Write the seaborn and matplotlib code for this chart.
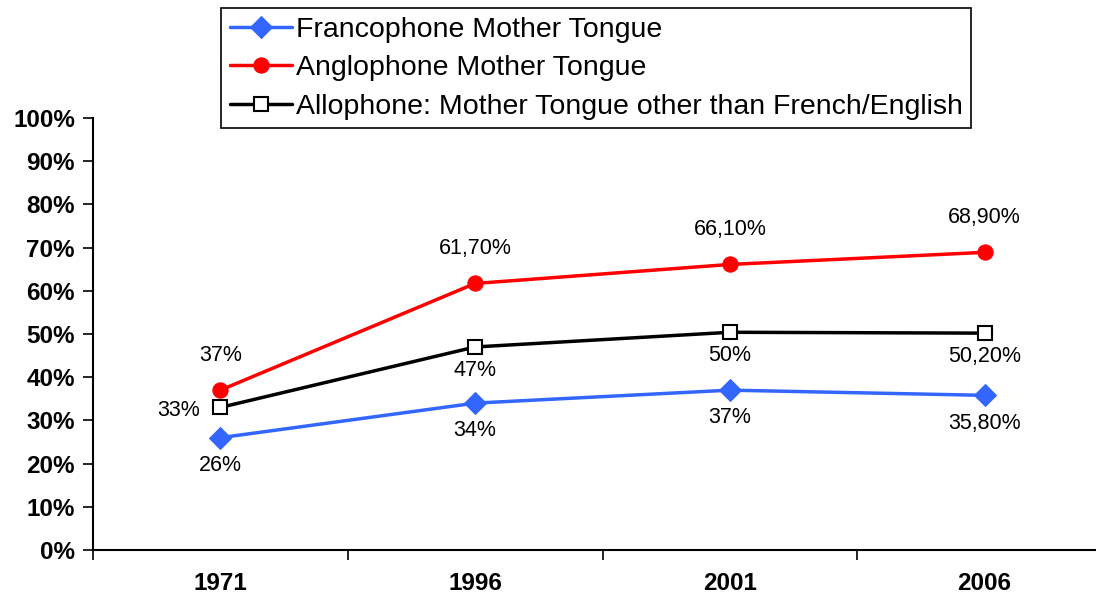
import matplotlib
matplotlib.use("Agg")
import matplotlib.pyplot as plt
import seaborn as sns
import pandas as pd

years = ["1971", "1996", "2001", "2006"]
franco = [26, 34, 37, 35.8]
anglo = [37, 61.7, 66.1, 68.9]
allo = [33, 47, 50.4, 50.2]
franco_lbl = ["26%", "34%", "37%", "35,80%"]
anglo_lbl = ["37%", "61,70%", "66,10%", "68,90%"]
allo_lbl = ["33%", "47%", "50%", "50,20%"]
names = ["Francophone Mother Tongue", "Anglophone Mother Tongue",
         "Allophone: Mother Tongue other than French/English"]

sns.set_theme(style="white")
plt.rcParams['font.family'] = ['Liberation Sans', 'DejaVu Sans']
plt.rcParams['text.color'] = 'black'

fig = plt.figure(figsize=(10.96, 5.95), dpi=100)
ax = fig.add_axes([93/1096, 45/595, 1019/1096, 432/595])

x = list(range(len(years)))
df = pd.DataFrame({"x": x * 3,
                   "v": franco + anglo + allo,
                   "s": [names[0]] * 4 + [names[1]] * 4 + [names[2]] * 4})

styles = [
    dict(color="#3366FF", marker="D", ms=11, mfc="#3366FF", mec="#3366FF"),
    dict(color="#FF0000", marker="o", ms=11, mfc="#FF0000", mec="#FF0000"),
    dict(color="black", marker="s", ms=10, mfc="white", mec="black", mew=1.5),
]
for name, st in zip(names, styles):
    sub = df[df.s == name]
    sns.lineplot(data=sub, x="x", y="v", ax=ax, label=name, lw=2.5, **st)

fs = 15.5
for i in x:
    ax.annotate(franco_lbl[i], (i, franco[i]), xytext=(0, -20), textcoords="offset points",
                ha="center", va="center", fontsize=fs, color="black")
    ax.annotate(anglo_lbl[i], (i, anglo[i]), xytext=(0, 25), textcoords="offset points",
                ha="center", va="center", fontsize=fs, color="black")
    if i == 0:
        ax.annotate(allo_lbl[i], (i, allo[i]), xytext=(-30, -2), textcoords="offset points",
                    ha="center", va="center", fontsize=fs, color="black")
    else:
        ax.annotate(allo_lbl[i], (i, allo[i]), xytext=(0, -17), textcoords="offset points",
                    ha="center", va="center", fontsize=fs, color="black")

ax.set_xlim(-0.5, 3.5)
ax.set_ylim(0, 100)
ax.set_yticks(range(0, 101, 10))
ax.set_yticklabels([f"{v}%" for v in range(0, 101, 10)], fontsize=17.5, fontweight="bold", color="black")
ax.set_xticks(x)
ax.set_xticklabels(years, fontsize=17.5, fontweight="bold", color="black")
ax.set_xticks([-0.5, 0.5, 1.5, 2.5, 3.5], minor=True)
ax.tick_params(axis="x", which="major", length=0, pad=16)
ax.tick_params(axis="x", which="minor", length=7, width=1.2, color="black", direction="out", bottom=True)
ax.tick_params(axis="y", length=7, width=1.2, color="black", direction="out", left=True, pad=6)
ax.set_xlabel("")
ax.set_ylabel("")
for sp in ["top", "right"]:
    ax.spines[sp].set_visible(False)
for sp in ["left", "bottom"]:
    ax.spines[sp].set_color("black")
    ax.spines[sp].set_linewidth(1.5)

leg = ax.legend(loc="upper left", bbox_to_anchor=(221/1096, 1 - 8/595), bbox_transform=fig.transFigure,
                fontsize=20.5, frameon=True, fancybox=False, edgecolor="black", framealpha=1,
                handlelength=2.2, handletextpad=0.12, borderpad=0.3, labelspacing=0.44,
                borderaxespad=0)
leg.get_frame().set_linewidth(1.2)

fig.savefig("out.png", dpi=100)
